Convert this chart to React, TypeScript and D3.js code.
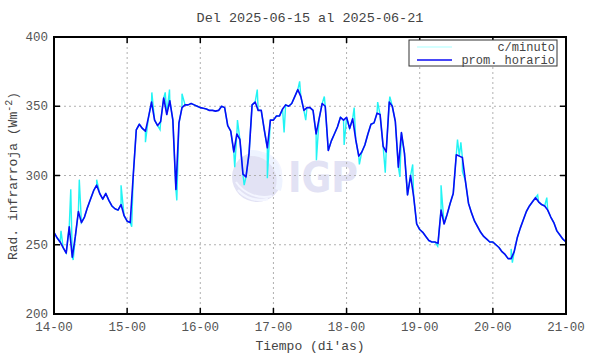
import React from "react";
import * as d3 from "d3";

const title = "Del 2025-06-15 al 2025-06-21";
const xTickLabels = ["14-00", "15-00", "16-00", "17-00", "18-00", "19-00", "20-00", "21-00"];
const yTicks = [200, 250, 300, 350, 400];
const legendLabels = ["c/minuto", "prom. horario"];

// hourly means, hour 0 = 14-00 ... hour 168 = 21-00
const hourly = [
  259, 255, 252, 248, 244, 263, 241, 256, 274, 266, 270, 277, 283, 289, 293, 287, 283, 287, 282, 278, 276, 275, 279, 271,
  267, 266, 300, 333, 337, 334, 332, 342, 353, 340, 336, 339, 356, 344, 354, 340, 290, 338, 349, 351, 351, 352, 351, 350,
  349, 348.5, 348, 347, 347, 346.5, 347, 350, 349, 336, 332, 317, 330, 326, 301, 299, 316, 351, 353, 347, 347, 333, 320, 340,
  340, 343, 343, 348, 351, 350, 352, 357, 362, 357, 347, 349, 349, 347, 330, 341, 352, 350, 318, 325, 330, 335, 342, 340,
  342, 334, 341, 326, 314, 317, 322, 330, 337, 338, 345, 344, 321, 317, 353, 350, 339, 306, 331, 316, 286, 300, 285, 265,
  261, 259, 256, 253, 252, 252, 251, 275, 265, 272, 280, 287, 315, 314, 313, 296, 280, 273, 267, 263, 259, 256, 254, 252,
  252, 250, 248, 245, 243, 240, 240, 245, 255, 262, 268, 274, 278, 281, 284, 281, 279, 278, 275, 270, 266, 260, 257, 254, 252,
];

// per-minute excursions: [hour, value]
const minuteSpikes: [number, number][] = [
  [2.3, 260], [5.5, 290], [6.3, 239], [8.3, 297], [14, 297], [22, 293], [25.5, 263],
  [30, 324], [32.1, 360], [34.8, 333], [36.5, 360], [37.9, 362], [40.3, 282], [42, 359],
  [59.3, 306], [60.2, 340], [62.4, 293], [66.7, 362], [70, 298], [75.5, 331], [80.6, 368], [82.6, 340],
  [86.1, 311], [88.7, 357], [95.2, 322], [98.5, 349], [100.2, 308], [106.2, 353], [108.7, 302], [110.2, 357],
  [113.5, 299], [117.7, 308], [125.9, 249], [127, 293],
  [132.4, 326], [133.5, 324], [134, 303], [150, 247], [150.4, 237], [158.7, 286], [161.7, 284],
];

const W = 590, H = 354;
const L = 54, R = 566, T = 37, B = 314;
const FONT = "'Liberation Mono', 'DejaVu Sans Mono', monospace";

export default function App() {
  const x = d3.scaleLinear().domain([0, 168]).range([L, R]);
  const y = d3.scaleLinear().domain([200, 400]).range([B, T]);

  const hourlyPts: [number, number][] = hourly.map((v, i) => [i, v]);
  const minutePts: [number, number][] = [...hourlyPts, ...minuteSpikes].sort((a, b) => a[0] - b[0]);

  const line = d3.line<[number, number]>().x((d) => x(d[0])).y((d) => y(d[1]));

  const xTicks = xTickLabels.map((_, i) => i * 24);

  return (
    <svg width={W} height={H} style={{ position: "absolute", left: 0, top: 0, background: "#fff" }}>
      <rect x={0} y={0} width={W} height={H} fill="#fff" />
      {/* watermark */}
      <g>
        <circle cx={257} cy={177} r={25} fill="#e2e2f4" />
        <path d="M238,190 A30,30 0 0 0 268,199" fill="none" stroke="#f3f5ff" strokeWidth={2.5} />
        <path d="M236,182 A34,34 0 0 0 272,196" fill="none" stroke="#f3f5ff" strokeWidth={2} />
        <path d="M250,153 A28,28 0 0 1 278,190" fill="none" stroke="#eef3ff" strokeWidth={6} />
        <path d="M262,153 A22,22 0 0 1 281,178" fill="none" stroke="#f3f5ff" strokeWidth={2} />
        <text x={288} y={192} fontFamily="'DejaVu Sans', sans-serif" fontWeight={900} fontSize={43}
          fill="#e2e2f4" textLength={70} lengthAdjust="spacingAndGlyphs">IGP</text>
      </g>
      {/* grid */}
      <g stroke="#b0b0b0" strokeWidth={1} strokeDasharray="2,3">
        {xTicks.slice(1, -1).map((t) => (
          <line key={"gx" + t} x1={x(t)} x2={x(t)} y1={T} y2={B} />
        ))}
        {yTicks.slice(1, -1).map((t) => (
          <line key={"gy" + t} x1={L} x2={R} y1={y(t)} y2={y(t)} />
        ))}
      </g>
      {/* data */}
      <path d={line(minutePts) || ""} fill="none" stroke="#22f4f4" strokeWidth={1.4} />
      <path d={line(hourlyPts) || ""} fill="none" stroke="#0a0af5" strokeWidth={1.6} strokeLinejoin="round" />
      {/* ticks */}
      <g stroke="#000" strokeWidth={1.5}>
        {xTicks.map((t) => (
          <g key={"tx" + t}>
            <line x1={x(t)} x2={x(t)} y1={B} y2={B - 6} />
            <line x1={x(t)} x2={x(t)} y1={T} y2={T + 6} />
          </g>
        ))}
        {yTicks.map((t) => (
          <g key={"ty" + t}>
            <line x1={L} x2={L + 6} y1={y(t)} y2={y(t)} />
            <line x1={R} x2={R - 6} y1={y(t)} y2={y(t)} />
          </g>
        ))}
      </g>
      {/* frame */}
      <rect x={L} y={T} width={R - L} height={B - T} fill="none" stroke="#000" strokeWidth={2} />
      {/* legend */}
      <g>
        <rect x={409} y={40} width={148} height={26} fill="#fff" stroke="#333" strokeWidth={1} />
        <line x1={417} x2={452} y1={47} y2={47} stroke="#aaffff" strokeWidth={1.2} />
        <line x1={417} x2={452} y1={60} y2={60} stroke="#0a0af5" strokeWidth={1.6} />
        <text x={555} y={51} textAnchor="end" fontFamily={FONT} fontSize={12} fill="#444">{legendLabels[0]}</text>
        <text x={555} y={64} textAnchor="end" fontFamily={FONT} fontSize={12} fill="#444">{legendLabels[1]}</text>
      </g>
      {/* tick labels */}
      <g fontFamily={FONT} fontSize={12.5} fill="#555">
        {xTicks.map((t, i) => (
          <text key={"lx" + t} x={x(t)} y={331} textAnchor="middle">{xTickLabels[i]}</text>
        ))}
        {yTicks.map((t) => (
          <text key={"ly" + t} x={48} y={y(t) + 4} textAnchor="end">{t}</text>
        ))}
      </g>
      {/* titles */}
      <text x={310} y={22} textAnchor="middle" fontFamily={FONT} fontSize={13.5} fill="#444">{title}</text>
      <text x={310} y={350} textAnchor="middle" fontFamily={FONT} fontSize={13} fill="#444">Tiempo (di'as)</text>
      <text transform="translate(17,176) rotate(-90)" textAnchor="middle" fontFamily={FONT} fontSize={13} fill="#444">
        Rad. infrarroja (Wm<tspan dy={-5} fontSize={10}>-2</tspan><tspan dy={5}>)</tspan>
      </text>
    </svg>
  );
}
